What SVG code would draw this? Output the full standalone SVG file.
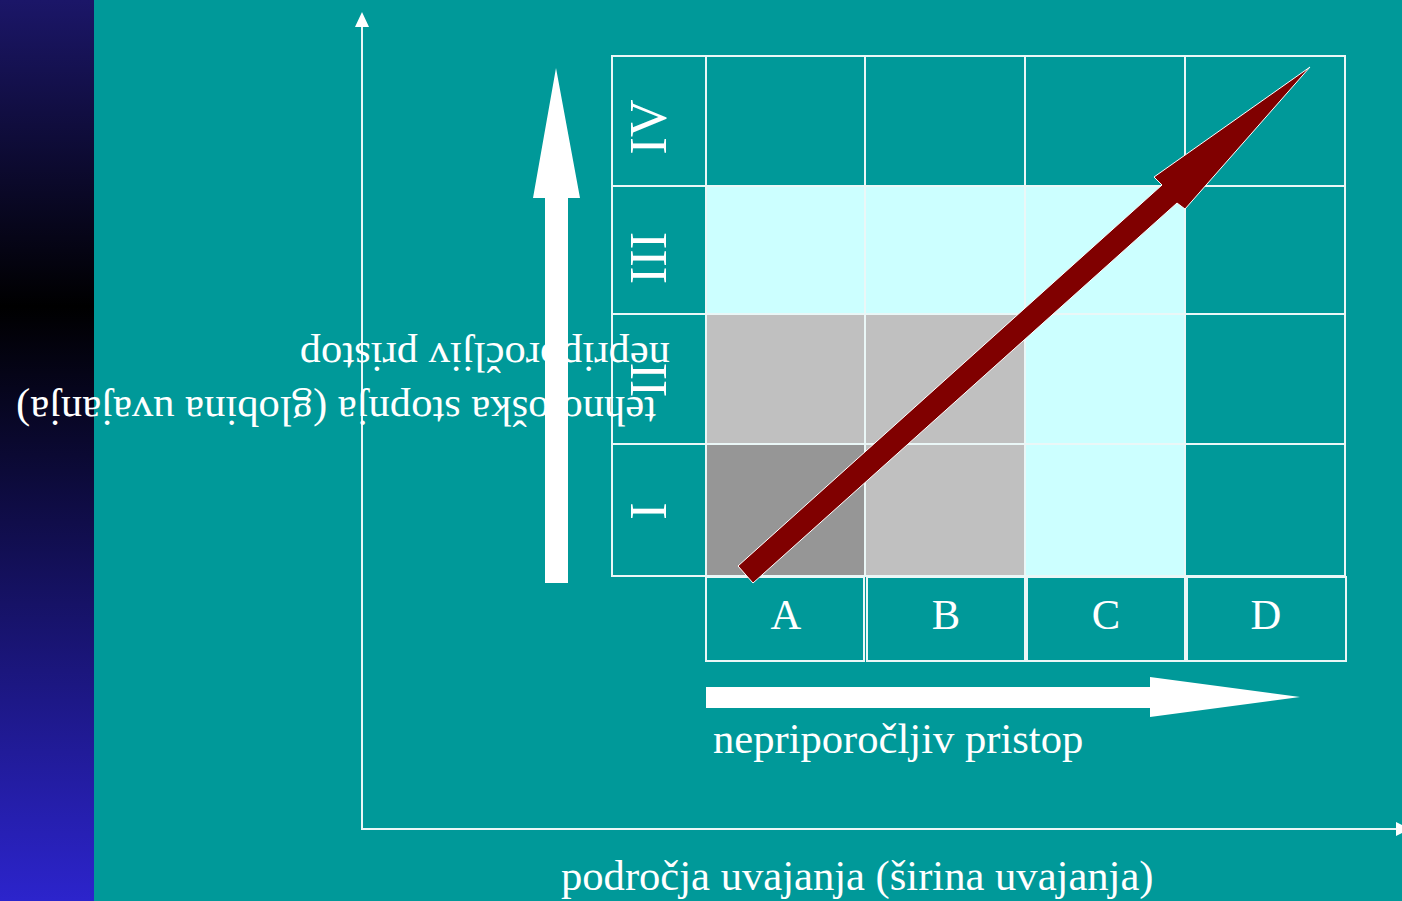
<svg xmlns="http://www.w3.org/2000/svg" width="1402" height="901" viewBox="0 0 1402 901">
<defs>
<linearGradient id="side" x1="0" y1="0" x2="0" y2="1">
<stop offset="0" stop-color="#1b1668"/>
<stop offset="0.34" stop-color="#000000"/>
<stop offset="1" stop-color="#2c24cc"/>
</linearGradient>
<style>
.t{font-family:"Liberation Serif","Times New Roman",serif;font-size:42.6px;fill:#ffffff}
.rn{font-family:"Liberation Serif","Times New Roman",serif;font-size:52px;fill:#ffffff}
.gl{stroke:#eaf7f7;stroke-width:2;fill:none}
.ax{stroke:#eaf7f7;stroke-width:2;fill:none}
</style>
</defs>
<rect x="0" y="0" width="1402" height="901" fill="#009999"/>
<rect x="0" y="0" width="94" height="901" fill="url(#side)"/>

<g id="cells">
<rect x="706" y="186" width="479" height="128" fill="#ccffff"/>
<rect x="706" y="314" width="319" height="130" fill="#c0c0c0"/>
<rect x="1025" y="314" width="160" height="262" fill="#ccffff"/>
<rect x="706" y="444" width="159" height="132" fill="#969696"/>
<rect x="865" y="444" width="160" height="132" fill="#c0c0c0"/>
</g>

<g id="grid">
<rect class="gl" x="612" y="56" width="94" height="520"/>
<rect class="gl" x="706" y="56" width="639" height="520"/>
<line class="gl" x1="612" y1="186" x2="1345" y2="186"/>
<line class="gl" x1="612" y1="314" x2="1345" y2="314"/>
<line class="gl" x1="612" y1="444" x2="1345" y2="444"/>
<line class="gl" x1="865" y1="56" x2="865" y2="576"/>
<line class="gl" x1="1025" y1="56" x2="1025" y2="576"/>
<line class="gl" x1="1185" y1="56" x2="1185" y2="576"/>
</g>

<g id="row-labels">
<text class="rn" text-anchor="middle" transform="translate(666,127) rotate(-90)">IV</text>
<text class="rn" text-anchor="middle" transform="translate(666,258) rotate(-90)">III</text>
<text class="rn" text-anchor="middle" transform="translate(666,380) rotate(-90)">II</text>
<text class="rn" text-anchor="middle" transform="translate(666,511) rotate(-90)">I</text>
</g>

<g id="col-A"><rect class="gl" x="706" y="577" width="158" height="84"/><text class="t" x="786" y="629" text-anchor="middle">A</text></g>
<g id="col-B"><rect class="gl" x="867" y="577" width="158" height="84"/><text class="t" x="946" y="629" text-anchor="middle">B</text></g>
<g id="col-C"><rect class="gl" x="1027" y="577" width="158" height="84"/><text class="t" x="1106" y="629" text-anchor="middle">C</text></g>
<g id="col-D"><rect class="gl" x="1187" y="577" width="159" height="84"/><text class="t" x="1266" y="629" text-anchor="middle">D</text></g>

<g id="connectors">
<line class="ax" x1="362" y1="24" x2="362" y2="829"/>
<polygon points="355,27 369,27 362,12" fill="#ffffff"/>
<line class="ax" x1="361" y1="829" x2="1396" y2="829"/>
<polygon points="1396,822 1396,836 1410,829" fill="#ffffff"/>
<polygon points="545,583 568,583 568,198 580,198 556,68 533,198 545,198" fill="#ffffff"/>
<polygon points="706,687 1150,687 1150,677 1300,697 1150,717 1150,708 706,708" fill="#ffffff"/>
<polygon points="738,566 1162,185 1154,177 1310,67 1185,209 1177,203 753,583" fill="#800000" stroke="#ffffff" stroke-width="1"/>
</g>

<g id="labels">
<text class="t" transform="translate(670,343) rotate(180)">nepriporočljiv pristop</text>
<text class="t" transform="translate(656,397) rotate(180)">tehnološka stopnja (globina uvajanja)</text>
<text class="t" x="713" y="753">nepriporočljiv pristop</text>
<text class="t" x="561" y="890">področja uvajanja (širina uvajanja)</text>
</g>
</svg>
